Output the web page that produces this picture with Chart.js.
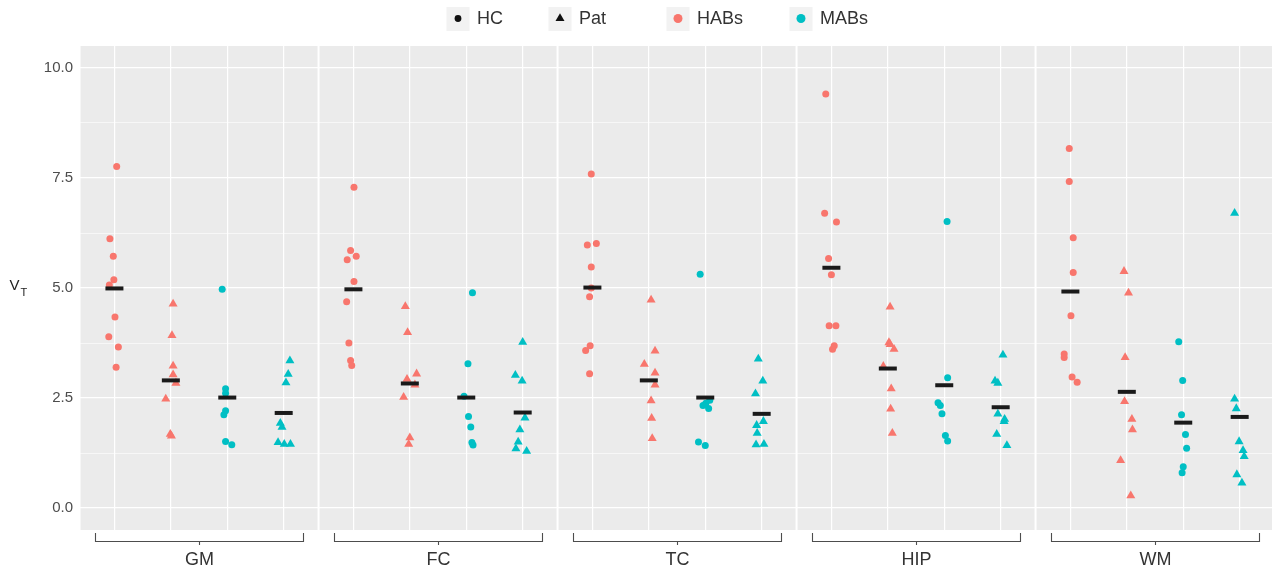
<!DOCTYPE html>
<html>
<head>
<meta charset="utf-8">
<title>V_T by region</title>
<script src="https://cdn.jsdelivr.net/npm/chart.js@4.4.1/dist/chart.umd.min.js"></script>
<style>
  html, body { margin: 0; padding: 0; background: #fff; }
  #wrap { width: 1272px; height: 571px; }
</style>
</head>
<body>
<div id="wrap"><canvas id="vtChart" width="1272" height="571"></canvas></div>
<script>
const regions = ["GM", "FC", "TC", "HIP", "WM"];
const yTicks = [0, 1.25, 2.5, 3.75, 5, 6.25, 7.5, 8.75, 10];

// one list per region, same order as regions
const hcHABs = [
    [7.76, 6.12, 5.72, 5.19, 5.07, 4.34, 3.89, 3.66, 3.20],
    [7.29, 5.85, 5.72, 5.64, 5.15, 4.69, 3.75, 3.35, 3.24],
    [7.59, 6.01, 5.98, 5.48, 5.00, 4.80, 3.69, 3.58, 3.05],
    [9.41, 6.70, 6.50, 5.67, 5.30, 4.14, 4.14, 3.69, 3.61],
    [8.17, 7.42, 6.14, 5.35, 4.37, 3.50, 3.42, 2.98, 2.86]
];
const hcHABsJitter = [
    [0.04, -0.08, -0.02, -0.01, -0.09, 0.01, -0.10, 0.07, 0.03],
    [0.01, -0.05, 0.05, -0.11, 0.01, -0.12, -0.08, -0.05, -0.03],
    [-0.02, 0.07, -0.09, -0.02, -0.02, -0.05, -0.04, -0.12, -0.05],
    [-0.10, -0.12, 0.09, -0.05, 0.00, -0.04, 0.08, 0.05, 0.02],
    [-0.02, -0.02, 0.05, 0.05, 0.01, -0.11, -0.11, 0.03, 0.12]
];

const patHABs = [
    [4.64, 3.92, 3.23, 3.03, 2.84, 2.48, 1.68, 1.64],
    [4.58, 3.99, 3.05, 2.93, 2.80, 2.52, 1.60, 1.45],
    [4.73, 3.57, 3.27, 3.07, 2.80, 2.44, 2.04, 1.58],
    [4.57, 3.76, 3.72, 3.61, 3.22, 2.71, 2.25, 1.70],
    [5.38, 4.89, 3.42, 2.42, 2.02, 1.78, 1.08, 0.28]
];
const patHABsJitter = [
    [0.04, 0.02, 0.04, 0.04, 0.09, -0.09, -0.01, 0.01],
    [-0.08, -0.04, 0.12, -0.05, 0.09, -0.11, 0.00, -0.02],
    [0.04, 0.11, -0.08, 0.11, 0.11, 0.04, 0.05, 0.06],
    [0.04, 0.02, 0.04, 0.11, -0.08, 0.06, 0.05, 0.08],
    [-0.05, 0.03, -0.03, -0.04, 0.09, 0.10, -0.11, 0.07]
];

const hcMABs = [
    [4.97, 2.71, 2.61, 2.21, 2.12, 1.51, 1.44],
    [4.89, 3.28, 2.54, 2.08, 1.84, 1.49, 1.43],
    [5.31, 2.45, 2.38, 2.33, 2.26, 1.50, 1.42],
    [6.51, 2.96, 2.39, 2.33, 2.14, 1.65, 1.52],
    [3.78, 2.90, 2.12, 1.67, 1.36, 0.94, 0.80]
];
const hcMABsJitter = [
    [-0.09, -0.03, -0.03, -0.03, -0.06, -0.03, 0.08],
    [0.11, 0.03, -0.04, 0.04, 0.08, 0.10, 0.12],
    [-0.09, 0.08, 0.01, -0.04, 0.06, -0.12, 0.00],
    [0.05, 0.06, -0.11, -0.07, -0.04, 0.02, 0.06],
    [-0.08, -0.01, -0.03, 0.04, 0.06, 0.00, -0.02]
];

const patMABs = [
    [3.35, 3.04, 2.85, 1.93, 1.84, 1.49, 1.45, 1.45],
    [3.77, 3.02, 2.89, 2.05, 1.78, 1.50, 1.35, 1.29],
    [3.39, 2.89, 2.60, 1.97, 1.88, 1.70, 1.44, 1.45],
    [3.48, 2.89, 2.84, 2.14, 2.02, 1.97, 1.68, 1.42],
    [6.70, 2.48, 2.26, 1.51, 1.31, 1.17, 0.76, 0.57]
];
const patMABsJitter = [
    [0.11, 0.08, 0.04, -0.06, -0.03, -0.10, 0.01, 0.12],
    [0.00, -0.13, -0.01, 0.04, -0.05, -0.08, -0.12, 0.07],
    [-0.06, 0.02, -0.11, 0.03, -0.09, -0.08, -0.10, 0.04],
    [0.04, -0.10, -0.05, -0.05, 0.07, 0.06, -0.07, 0.11],
    [-0.09, -0.09, -0.06, -0.01, 0.06, 0.08, -0.05, 0.04]
];

// group means (black bars)
const hcHABsMean = [4.99, 4.97, 5.01, 5.46, 4.92];
const patHABsMean = [2.90, 2.83, 2.90, 3.17, 2.64];
const hcMABsMean = [2.51, 2.51, 2.51, 2.79, 1.94];
const patMABsMean = [2.16, 2.17, 2.14, 2.29, 2.07];

const RED = "#F8766D";
const TEAL = "#00BFC4";
const PANEL_W = 4.2;     // 4 slots + 0.6 expansion each side
const GAP = 0.0355;      // ~2px white gap between panels

function panelStart(p) {
    return p * (PANEL_W + GAP);
}

function slotX(p, slot) {
    return panelStart(p) + 0.6 + slot;
}

function points(values, jitter, slot) {
    const out = [];
    values.forEach((vals, p) => {
        vals.forEach((v, i) => {
            out.push({ x: slotX(p, slot) + jitter[p][i], y: v });
        });
    });
    return out;
}

function meanPoints() {
    const out = [];
    [hcHABsMean, patHABsMean, hcMABsMean, patMABsMean].forEach((m, slot) => {
        m.forEach((v, p) => out.push({ x: slotX(p, slot), y: v }));
    });
    return out;
}

const slotTicks = [];
regions.forEach((r, p) => {
    for (let s = 0; s < 4; s++) slotTicks.push(slotX(p, s));
});

const panelPlugin = {
    id: "panels",
    afterLayout(chart) {
        // chart.js keeps a few px free on the right; let the plot run to the edge
        const area = chart.chartArea;
        const xs = chart.scales.x;
        area.right = chart.width;
        area.width = area.right - area.left;
        xs.right = chart.width;
        xs.width = xs.right - xs.left;
        xs.configure();
    },
    beforeDraw(chart) {
        const { ctx, chartArea, scales } = chart;
        ctx.save();
        ctx.fillStyle = "#EBEBEB";
        regions.forEach((r, p) => {
            const x0 = Math.max(scales.x.getPixelForValue(panelStart(p)), chartArea.left);
            const x1 = Math.min(scales.x.getPixelForValue(panelStart(p) + PANEL_W), chartArea.right);
            ctx.fillRect(x0, chartArea.top, x1 - x0, chartArea.bottom - chartArea.top);
        });
        ctx.restore();
    },
    afterDraw(chart) {
        const { ctx, scales } = chart;
        const x = scales.x;
        ctx.save();

        // bracket axis under each panel
        ctx.strokeStyle = "#4D4D4D";
        ctx.lineWidth = 1.1;
        ctx.fillStyle = "#333";
        ctx.font = "18px 'Liberation Sans', Arial, sans-serif";
        ctx.textAlign = "center";
        ctx.textBaseline = "middle";
        regions.forEach((r, p) => {
            const a = Math.round(x.getPixelForValue(slotX(p, 0) - 0.34)) + 0.5;
            const b = Math.round(x.getPixelForValue(slotX(p, 3) + 0.34)) + 0.5;
            const c = Math.round(x.getPixelForValue(panelStart(p) + PANEL_W / 2)) + 0.5;
            ctx.beginPath();
            ctx.moveTo(a, 533);
            ctx.lineTo(a, 541.5);
            ctx.lineTo(b, 541.5);
            ctx.lineTo(b, 533);
            ctx.moveTo(c, 541.5);
            ctx.lineTo(c, 545);
            ctx.stroke();
            ctx.fillText(r, c, 560);
        });

        // y title V_T
        ctx.textAlign = "left";
        ctx.textBaseline = "alphabetic";
        ctx.fillStyle = "#222";
        ctx.font = "15px 'Liberation Sans', Arial, sans-serif";
        ctx.fillText("V", 9.5, 290);
        ctx.font = "11px 'Liberation Sans', Arial, sans-serif";
        ctx.fillText("T", 20.5, 296);

        // legend
        const keys = [
            { cx: 458, label: "HC", color: "#111", shape: "circle", r: 3.4 },
            { cx: 560, label: "Pat", color: "#111", shape: "triangle", r: 5.2 },
            { cx: 678, label: "HABs", color: RED, shape: "circle", r: 4.5 },
            { cx: 801, label: "MABs", color: TEAL, shape: "circle", r: 4.5 }
        ];
        ctx.font = "18px 'Liberation Sans', Arial, sans-serif";
        ctx.textBaseline = "middle";
        keys.forEach(k => {
            ctx.fillStyle = "#F2F2F2";
            ctx.fillRect(k.cx - 11.5, 7, 23, 24);
            ctx.fillStyle = k.color;
            ctx.beginPath();
            if (k.shape === "circle") {
                ctx.arc(k.cx, 18.5, k.r, 0, Math.PI * 2);
            } else {
                ctx.moveTo(k.cx, 18.5 - k.r);
                ctx.lineTo(k.cx + k.r * 0.866, 18.5 + k.r * 0.5);
                ctx.lineTo(k.cx - k.r * 0.866, 18.5 + k.r * 0.5);
                ctx.closePath();
            }
            ctx.fill();
            ctx.fillStyle = "#333";
            ctx.fillText(k.label, k.cx + 19, 19.5);
        });

        ctx.restore();
    }
};

const ctx = document.getElementById("vtChart");

new Chart(ctx, {

    type: "scatter",

    data: {

        datasets: [
            {
                label: "mean",
                data: meanPoints(),
                pointStyle: "line",
                radius: 9,
                borderWidth: 4,
                borderColor: "#1A1A1A",
                backgroundColor: "#1A1A1A",
                order: 0
            },
            {
                label: "HC HABs",
                data: points(hcHABs, hcHABsJitter, 0),
                pointStyle: "circle",
                radius: 3.5,
                borderWidth: 0,
                backgroundColor: RED,
                order: 1
            },
            {
                label: "Pat HABs",
                data: points(patHABs, patHABsJitter, 1),
                pointStyle: "triangle",
                radius: 5.2,
                borderWidth: 0,
                backgroundColor: RED,
                order: 1
            },
            {
                label: "HC MABs",
                data: points(hcMABs, hcMABsJitter, 2),
                pointStyle: "circle",
                radius: 3.5,
                borderWidth: 0,
                backgroundColor: TEAL,
                order: 1
            },
            {
                label: "Pat MABs",
                data: points(patMABs, patMABsJitter, 3),
                pointStyle: "triangle",
                radius: 5.2,
                borderWidth: 0,
                backgroundColor: TEAL,
                order: 1
            }
        ]

    },

    options: {

        responsive: false,
        animation: false,
        layout: { padding: { top: 46, left: 0, right: 0, bottom: 0 } },

        plugins: {
            legend: { display: false },
            tooltip: { enabled: false }
        },

        scales: {

            x: {
                type: "linear",
                min: -0.01,
                max: 21.115,
                border: { display: false },
                grid: {
                    color: "#FFFFFF",
                    lineWidth: 1.2,
                    drawTicks: false
                },
                ticks: { display: false },
                afterBuildTicks(scale) {
                    scale.ticks = slotTicks.map(v => ({ value: v }));
                },
                afterFit(scale) {
                    scale.height = 41;
                    scale.paddingLeft = 0;
                    scale.paddingRight = 0;
                }
            },

            y: {
                min: -0.5,
                max: 10.5,
                border: { display: false },
                grid: {
                    color: "#FFFFFF",
                    drawTicks: false,
                    lineWidth: c => (c.tick && c.tick.value % 2.5 === 0) ? 1.2 : 0.6
                },
                ticks: {
                    padding: 7,
                    color: "#4D4D4D",
                    font: { family: "'Liberation Sans', Arial, sans-serif", size: 15 },
                    callback: v => (v % 2.5 === 0) ? v.toFixed(1) : ""
                },
                afterBuildTicks(scale) {
                    scale.ticks = yTicks.map(v => ({ value: v }));
                },
                afterFit(scale) {
                    scale.width = 80;
                    scale.paddingTop = 0;
                    scale.paddingBottom = 0;
                }
            }

        }

    },

    plugins: [panelPlugin]

});
</script>
</body>
</html>
